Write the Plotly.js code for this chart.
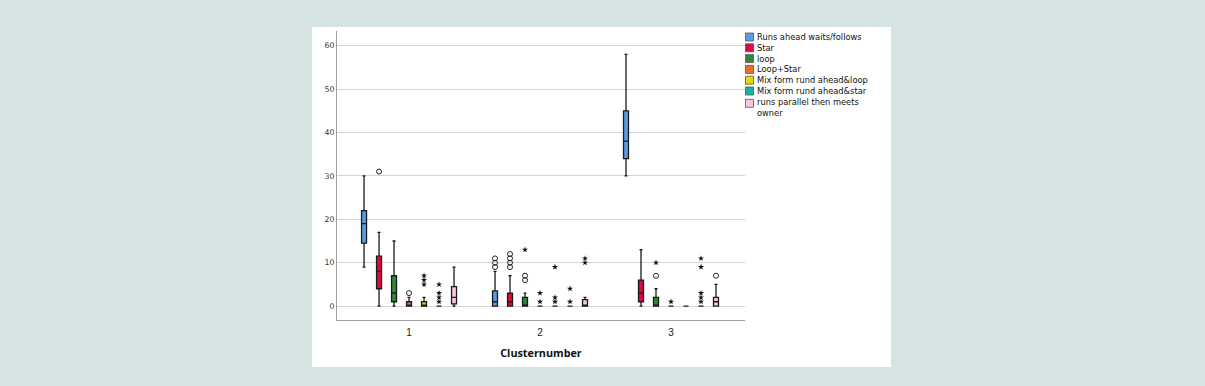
<!DOCTYPE html>
<html><head><meta charset="utf-8">
<script src="https://cdn.plot.ly/plotly-3.0.1.min.js"></script>
<style>html,body{margin:0;padding:0;background:#d5e4e3;}#chart{width:1205px;height:386px;}</style>
</head><body><div id="chart"></div>
<script>
// Categories
const clusters = [1, 2, 3];
const seriesNames = ["Runs ahead waits/follows", "Star", "loop", "Loop+Star",
  "Mix form rund ahead&loop", "Mix form rund ahead&star", "runs parallel then meets|owner"];
const seriesColors = ["#5b9be2", "#dc0a42", "#2f8a34", "#f26a2c", "#e8d80a", "#14b5a0", "#f8c6e2"];

// Box statistics per series, one value per cluster [1,2,3]
const q1s      = [[14.5, 0, 34], [4, 0, 1], [1, 0, 0], [0, 0, 0], [0, 0, 0], [0, 0, 0], [0.5, 0, 0]];
const medians  = [[19, 1, 38],   [8, 1, 3], [3, 0, 0], [0, 0, 0], [0, 0, 0], [0, 0, 0], [2, 0, 1]];
const q3s      = [[22, 3.5, 45], [11.5, 3, 6], [7, 2, 2], [1, 0, 0], [1, 0, 0], [0, 0, 0], [4.5, 1.5, 2]];
const lowers   = [[9, 0, 30],    [0, 0, 0], [0, 0, 0], [0, 0, 0], [0, 0, 0], [0, 0, 0], [0, 0, 0]];
const uppers   = [[30, 8, 58],   [17, 7, 13], [15, 3, 4], [2, 0, 0], [2, 0, 0], [0, 0, 0], [9, 2, 5]];

// Outliers (circles) and extremes (stars) per series, per cluster
const outliers = [
  [[], [9, 10, 11], []],
  [[31], [9, 10, 11, 12], []],
  [[], [6, 7], [7]],
  [[3], [], []],
  [[], [], []],
  [[], [], []],
  [[], [], [7]]
];
const extremes = [
  [[], [], []],
  [[], [], []],
  [[], [13], [10]],
  [[], [1, 3], [1]],
  [[5, 6, 7], [1, 2, 9], []],
  [[1, 2, 3, 5], [1, 4], [1, 2, 3, 9, 11]],
  [[], [10, 11], []]
];
const yTicks = [0, 10, 20, 30, 40, 50, 60];

const step = 0.1145;
const traces = [];
seriesNames.forEach((name, i) => {
  const xs = clusters.map(c => c + (i - 3) * step);
  traces.push({
    type: 'box', name: name.replace('|', ' '), x: xs,
    q1: q1s[i], median: medians[i], q3: q3s[i],
    lowerfence: lowers[i], upperfence: uppers[i],
    width: 0.038, whiskerwidth: 0.6,
    fillcolor: seriesColors[i],
    line: {color: '#1a1a1a', width: 1.3},
    boxpoints: false, hoverinfo: 'none', showlegend: false
  });
});
seriesNames.forEach((name, i) => {
  const ox = [], oy = [], ex = [], ey = [];
  clusters.forEach((c, k) => {
    outliers[i][k].forEach(v => { ox.push(c + (i - 3) * step); oy.push(v); });
    extremes[i][k].forEach(v => { ex.push(c + (i - 3) * step); ey.push(v); });
  });
  if (ox.length) traces.push({type: 'scatter', mode: 'markers', x: ox, y: oy, showlegend: false,
    marker: {symbol: 'circle-open', size: 5, color: '#222', line: {width: 1}}, hoverinfo: 'none'});
  if (ex.length) traces.push({type: 'scatter', mode: 'markers', x: ex, y: ey, showlegend: false,
    marker: {symbol: 'star', size: 4.6, color: '#111', line: {width: 0}}, hoverinfo: 'none'});
});

// Plot area geometry (pixels) used to place the legend in paper coordinates
const PL = 337, PW = 408, PB = 320, PH = 289;
const px2x = p => (p - PL) / PW;
const px2y = p => (PB - p) / PH;
const ROW = 10.8, ROW0 = 37;

const shapes = [{
  type: 'rect', xref: 'paper', yref: 'paper', layer: 'below',
  x0: px2x(312), x1: px2x(891), y0: px2y(367), y1: px2y(27),
  fillcolor: '#ffffff', line: {width: 0}
}];
const legendLines = [];
seriesNames.forEach((name, i) => {
  const parts = name.split('|');
  const cy = ROW0 + ROW * i + (parts.length > 1 ? 1.5 : 0);
  shapes.push({type: 'rect', xref: 'paper', yref: 'paper', layer: 'above',
    x0: px2x(745.5), x1: px2x(753.5), y0: px2y(cy + 4), y1: px2y(cy - 4),
    fillcolor: seriesColors[i], line: {color: '#555', width: 0.8}});
  parts.forEach(t => legendLines.push(t));
});
const annotations = [{
  xref: 'paper', yref: 'paper', x: px2x(755),
  y: px2y(ROW0 + ROW * (legendLines.length - 1) / 2),
  xanchor: 'left', yanchor: 'middle', align: 'left', showarrow: false,
  text: legendLines.join('<br>'),
  font: {size: ROW / 1.3, family: 'DejaVu Sans, sans-serif', color: '#111'}
}];

const layout = {
  width: 1205, height: 386,
  paper_bgcolor: '#d5e4e3', plot_bgcolor: '#ffffff',
  margin: {l: PL, r: 1205 - PL - PW, t: PB - PH, b: 386 - PB},
  showlegend: false,
  font: {family: 'DejaVu Sans, sans-serif', color: '#222'},
  xaxis: {
    range: [0.45, 3.565], tickvals: clusters, ticktext: clusters.map(String),
    showgrid: false, zeroline: false, showline: true, linecolor: '#a0a0a0', linewidth: 1,
    ticks: '', ticklabelstandoff: 3, tickfont: {size: 10, family: 'Liberation Sans, sans-serif', color: '#222'},
    title: {text: '<b>Clusternumber</b>', font: {size: 10.8, family: 'Open Sans, sans-serif', color: '#111'}, standoff: 12}
  },
  yaxis: {
    range: [-3.2, 63.4], tickvals: yTicks, ticktext: yTicks.map(String),
    showgrid: true, gridcolor: '#d4d4d4', gridwidth: 1, zeroline: false,
    showline: true, linecolor: '#a0a0a0', linewidth: 1, ticks: '',
    tickfont: {size: 7.8, family: 'DejaVu Sans, sans-serif', color: '#333'}
  },
  shapes: shapes,
  annotations: annotations
};
Plotly.newPlot('chart', traces, layout, {staticPlot: true, displayModeBar: false});
</script></body></html>
